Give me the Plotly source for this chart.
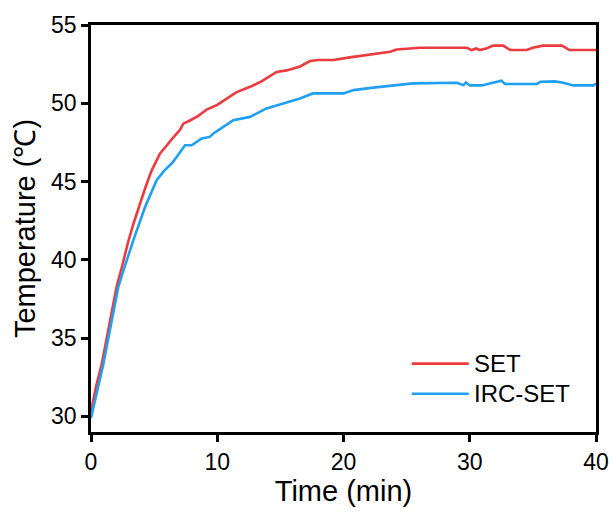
import plotly.graph_objects as go

# SET series (time in min, temperature in °C)
set_time = [0, 0.4, 0.84, 1.5, 2.03, 2.5, 2.96, 3.4, 3.88, 4.3, 4.8, 5.47, 6.0, 6.39,
            7.05, 7.31, 7.84, 8.5, 9.16, 10.0, 10.75, 11.5, 12.6, 13.5, 14.7, 15.5,
            16.55, 17.35, 18.0, 19.2, 20.5, 21.8, 23.0, 23.7, 24.2, 26.06, 28.0,
            29.76, 30.15, 30.5, 30.8, 31.3, 31.87, 32.66, 33.2, 34.5, 35.0, 35.8,
            37.3, 37.9, 40]
set_temp = [30.3, 31.9, 33.3, 36.1, 38.3, 39.7, 41.2, 42.4, 43.6, 44.6, 45.7, 46.8,
            47.3, 47.7, 48.3, 48.7, 48.9, 49.2, 49.6, 49.9, 50.3, 50.7, 51.05, 51.4,
            52.0, 52.1, 52.35, 52.7, 52.76, 52.76, 52.93, 53.08, 53.2, 53.29, 53.44,
            53.55, 53.55, 53.55, 53.4, 53.5, 53.4, 53.5, 53.68, 53.68, 53.4, 53.4,
            53.55, 53.68, 53.68, 53.4, 53.4]

# IRC-SET series
irc_time = [0, 0.5, 0.98, 1.64, 2.16, 2.56, 3.35, 4.28, 5.2, 5.8, 6.39, 6.9, 7.45,
            7.97, 8.77, 9.4, 9.69, 10.48, 11.27, 12.6, 13.9, 15.23, 16.55, 17.35,
            17.6, 20.0, 20.8, 22.36, 23.95, 25.5, 28.97, 29.5, 29.7, 30.0, 30.95,
            31.87, 32.5, 32.8, 35.3, 35.6, 36.75, 37.4, 38.2, 39.8, 40]
irc_temp = [29.9, 31.7, 33.34, 36.1, 38.25, 39.3, 41.24, 43.37, 45.08, 45.7, 46.15,
            46.7, 47.32, 47.32, 47.75, 47.85, 48.07, 48.49, 48.92, 49.13, 49.67,
            49.99, 50.3, 50.56, 50.63, 50.63, 50.84, 51.0, 51.16, 51.27, 51.31,
            51.16, 51.33, 51.14, 51.14, 51.31, 51.44, 51.23, 51.23, 51.37, 51.40,
            51.31, 51.14, 51.14, 51.27]

series_names = ["SET", "IRC-SET"]
series_colors = ["#EC3B3F", "#1FA0F0"]
x_ticks = [0, 10, 20, 30, 40]
y_ticks = [30, 35, 40, 45, 50, 55]

FONT = "Arial, 'Liberation Sans', sans-serif"

fig = go.Figure()
for name, xs, ys, col in zip(series_names, [set_time, irc_time], [set_temp, irc_temp], series_colors):
    fig.add_trace(go.Scatter(x=xs, y=ys, mode="lines", name=name,
                             line=dict(color=col, width=2.6), showlegend=False))

# custom legend (long sample lines as in the reference)
leg_y = [0.168, 0.094]
for name, col, ly in zip(series_names, series_colors, leg_y):
    fig.add_shape(type="line", xref="paper", yref="paper", x0=0.635, x1=0.748,
                  y0=ly, y1=ly, line=dict(color=col, width=2.6))
    fig.add_annotation(xref="paper", yref="paper", x=0.755, y=ly, text=name,
                       showarrow=False, xanchor="left", yanchor="middle",
                       font=dict(family=FONT, size=24, color="black"))

axis_common = dict(showline=True, linecolor="black", linewidth=2.8, mirror=True,
                   ticks="outside", ticklen=7, tickwidth=2.6, tickcolor="black",
                   showgrid=False, zeroline=False,
                   tickfont=dict(family=FONT, size=23, color="black"))

fig.update_xaxes(range=[0, 40], tickvals=x_ticks,
                 title=dict(text="Time (min)", font=dict(family=FONT, size=29, color="black"), standoff=8),
                 **axis_common)
fig.update_yaxes(range=[29, 55], tickvals=y_ticks,
                 title=dict(text="Temperature (℃)", font=dict(family=FONT, size=29, color="black"), standoff=7),
                 **axis_common)

fig.update_layout(width=616, height=513, margin=dict(l=91, r=20, t=25, b=81, autoexpand=False),
                  plot_bgcolor="white", paper_bgcolor="white")

fig.write_html("out.html", config={"displayModeBar": False},
               post_script="document.body.style.margin='0';document.body.style.overflow='hidden';")
